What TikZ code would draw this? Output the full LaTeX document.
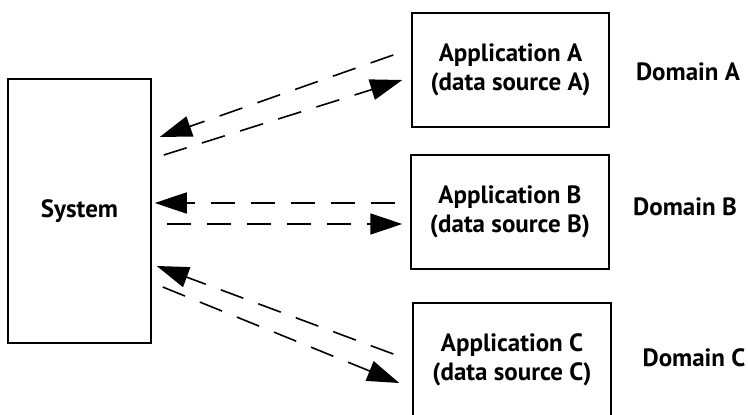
\documentclass[tikz,border=0pt]{standalone}
\usepackage{fontspec}
\setmainfont{PT Sans}
\usetikzlibrary{arrows.meta}
\tikzset{
  box/.style={draw, line width=1.5pt, align=center, inner sep=0pt, font=\bfseries\fontsize{25}{29}\selectfont},
  flow/.style={line width=1.6pt, dash pattern=on 24pt off 16pt, -{Triangle[length=32pt,width=21pt]}},
  domlabel/.style={font=\bfseries\fontsize{25}{29}\selectfont}
}
\begin{document}
\begin{tikzpicture}[x=1pt, y=-1pt]
  \useasboundingbox (0,0) rectangle (748,415);
  % boxes
  \node[box, minimum width=143pt, minimum height=264pt] (sys) at (79.5,211) {System};
  \node[box, minimum width=197pt, minimum height=114pt] (appA) at (510.5,70) {Application A\\(data source A)};
  \node[box, minimum width=198pt, minimum height=114pt] (appB) at (510,212) {Application B\\(data source B)};
  \node[box, minimum width=198pt, minimum height=114pt] (appC) at (512,360) {Application C\\(data source C)};
  % domains
  \node[domlabel] (domA) at (688,72) {Domain A};
  \node[domlabel] (domB) at (685,207) {Domain B};
  \node[domlabel] (domC) at (694,358) {Domain C};
  % arrows
  \draw[flow] ([shift={(-18,-15)}]appA.west) -- ([shift={(8,-74)}]sys.east);
  \draw[flow] ([shift={(12,-56)}]sys.east) -- ([shift={(-9,10)}]appA.west);
  \draw[flow] ([shift={(-15,-9)}]appB.west) -- ([shift={(3,-8)}]sys.east);
  \draw[flow] ([shift={(15,13)}]sys.east) -- ([shift={(-8,12)}]appB.west);
  \draw[flow] ([shift={(-19,-6)}]appC.west) -- ([shift={(5,55)}]sys.east);
  \draw[flow] ([shift={(11,76)}]sys.east) -- ([shift={(-13,23)}]appC.west);
\end{tikzpicture}
\end{document}
